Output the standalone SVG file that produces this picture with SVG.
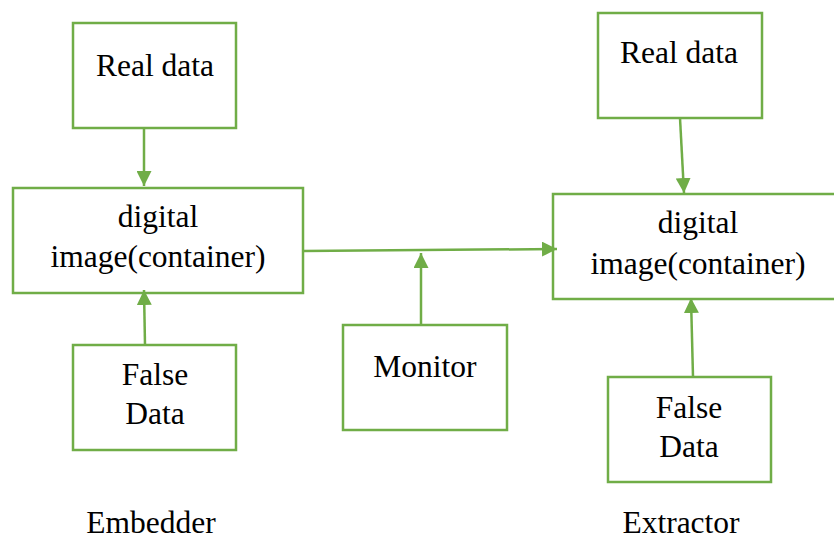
<svg xmlns="http://www.w3.org/2000/svg" width="834" height="539" viewBox="0 0 834 539">
<style>
.box{fill:#fff;stroke:#70AD47;stroke-width:2.5}
.con{stroke:#70AD47;stroke-width:2.5;fill:none}
text{font-family:"Liberation Serif","Times New Roman",serif;font-size:31.5px;fill:#000;text-anchor:middle}
</style>
<defs>
<marker id="ah" markerWidth="6" markerHeight="6" refX="6" refY="3" orient="auto" markerUnits="strokeWidth">
<path d="M0,0 L6,3 L0,6 Z" fill="#70AD47"/>
</marker>
</defs>
<rect width="834" height="539" fill="#fff"/>
<g id="left-real"><rect class="box" x="73" y="23" width="163" height="105"/><text x="155" y="76">Real data</text></g>
<g id="left-image"><rect class="box" x="13" y="188" width="290" height="105"/><text x="158" y="227">digital</text><text x="158" y="267">image(container)</text></g>
<g id="left-false"><rect class="box" x="73" y="345" width="163" height="105"/><text x="155" y="385">False</text><text x="155" y="424">Data</text></g>
<g id="monitor"><rect class="box" x="343" y="325" width="164" height="105"/><text x="425" y="377">Monitor</text></g>
<g id="right-real"><rect class="box" x="598" y="13" width="164" height="105"/><text x="679" y="63">Real data</text></g>
<g id="right-image"><rect class="box" x="553" y="194" width="284" height="105"/><text x="698" y="233">digital</text><text x="698" y="274">image(container)</text></g>
<g id="right-false"><rect class="box" x="608" y="377" width="163" height="105"/><text x="689" y="418">False</text><text x="689" y="457">Data</text></g>
<g id="embedder-label"><text x="151" y="533">Embedder</text></g>
<g id="extractor-label"><text x="681" y="533">Extractor</text></g>
<g id="connectors">
<line class="con" x1="144" y1="129" x2="144" y2="186" marker-end="url(#ah)"/>
<line class="con" x1="145" y1="345" x2="144" y2="290" marker-end="url(#ah)"/>
<line class="con" x1="303" y1="251" x2="557" y2="249" marker-end="url(#ah)"/>
<line class="con" x1="421" y1="325" x2="421" y2="253" marker-end="url(#ah)"/>
<line class="con" x1="680" y1="118" x2="684" y2="193" marker-end="url(#ah)"/>
<line class="con" x1="693" y1="377" x2="691" y2="298" marker-end="url(#ah)"/>
</g>
</svg>
